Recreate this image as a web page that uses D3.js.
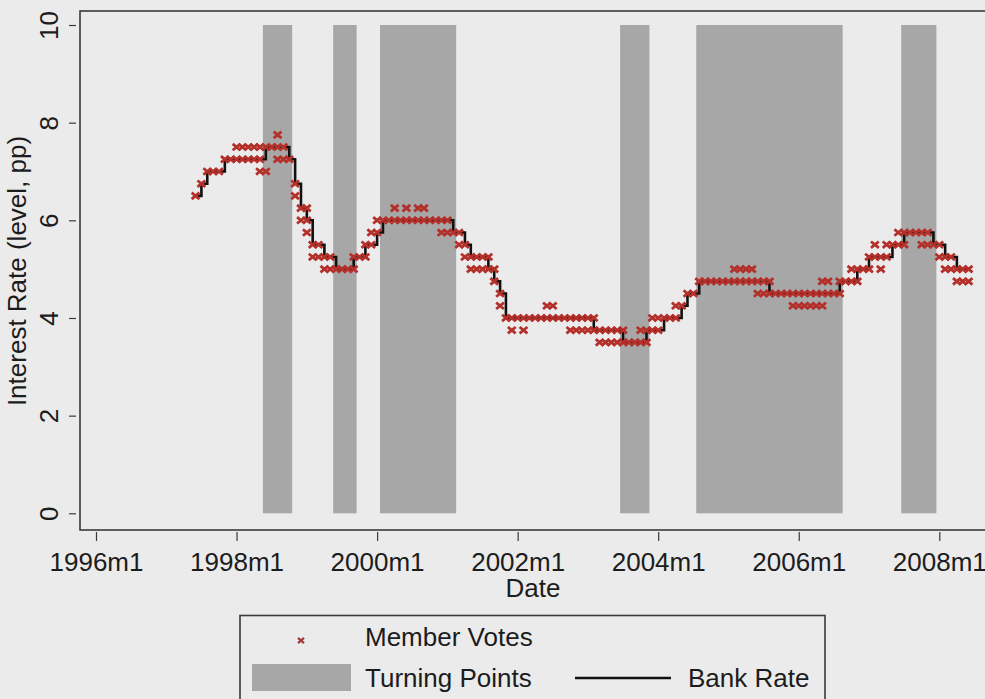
<!DOCTYPE html>
<html>
<head>
<meta charset="utf-8">
<script src="https://cdn.jsdelivr.net/npm/d3@7"></script>
<style>
  html, body { margin: 0; padding: 0; background: #ebebeb; }
  svg { display: block; }
  text { font-family: "Liberation Sans", Arial, Helvetica, sans-serif; fill: #1c1c1c; }
</style>
</head>
<body>
<svg id="chart" width="985" height="699"></svg>
<script>
// ---- data -------------------------------------------------------------
const firstMonth = "1997m6";

// Bank Rate (%), monthly from 1997m6 to 2008m6
const bankRate = [
  6.5, 6.75, 7.0, 7.0, 7.0, 7.25, 7.25,                       // 1997m6-m12
  7.25, 7.25, 7.25, 7.25, 7.25, 7.5, 7.5, 7.5, 7.5, 7.25, 6.75, 6.25, // 1998
  6.0, 5.5, 5.5, 5.25, 5.25, 5.0, 5.0, 5.0, 5.25, 5.25, 5.5, 5.5,     // 1999
  5.75, 6.0, 6.0, 6.0, 6.0, 6.0, 6.0, 6.0, 6.0, 6.0, 6.0, 6.0,        // 2000
  6.0, 5.75, 5.75, 5.5, 5.25, 5.25, 5.25, 5.0, 4.75, 4.5, 4.0, 4.0,   // 2001
  4.0, 4.0, 4.0, 4.0, 4.0, 4.0, 4.0, 4.0, 4.0, 4.0, 4.0, 4.0,         // 2002
  4.0, 3.75, 3.75, 3.75, 3.75, 3.75, 3.5, 3.5, 3.5, 3.5, 3.75, 3.75,  // 2003
  3.75, 4.0, 4.0, 4.0, 4.25, 4.5, 4.5, 4.75, 4.75, 4.75, 4.75, 4.75,  // 2004
  4.75, 4.75, 4.75, 4.75, 4.75, 4.75, 4.75, 4.5, 4.5, 4.5, 4.5, 4.5,  // 2005
  4.5, 4.5, 4.5, 4.5, 4.5, 4.5, 4.5, 4.75, 4.75, 4.75, 5.0, 5.0,      // 2006
  5.25, 5.25, 5.25, 5.25, 5.5, 5.5, 5.75, 5.75, 5.75, 5.75, 5.75, 5.5, // 2007
  5.5, 5.25, 5.25, 5.0, 5.0, 5.0                                      // 2008m1-m6
];

// MPC member votes that differed from the decided rate
const dissentMonths = [
  "1998m1","1998m2","1998m3","1998m4","1998m5","1998m5","1998m6",
  "1998m8","1998m8","1998m9","1998m11","1998m12","1999m1","1999m1",
  "1999m2","1999m3","1999m4","1999m5","1999m9","1999m11","1999m12","2000m1",
  "2000m4","2000m6","2000m8","2000m9","2000m12","2001m1","2001m3","2001m4",
  "2001m5","2001m6","2001m7","2001m8","2001m9","2001m10",
  "2001m12","2002m2","2002m6","2002m7",
  "2002m10","2002m11","2002m12","2003m1","2003m2",
  "2003m3","2003m4","2003m5","2003m6","2003m7",
  "2003m10","2003m11","2003m12","2004m1","2004m4",
  "2005m2","2005m3","2005m4","2005m5","2005m6","2005m7","2005m8",
  "2005m12","2006m1","2006m2","2006m3","2006m4","2006m5",
  "2006m5","2006m6","2006m8","2006m10","2006m11",
  "2007m1","2007m2","2007m3","2007m4","2007m6","2007m7",
  "2007m10","2007m11","2008m1","2008m2","2008m3",
  "2008m4","2008m5","2008m6"
];
const dissentValues = [
  7.5, 7.5, 7.5, 7.5, 7.5, 7.0, 7.0,
  7.75, 7.25, 7.25, 6.5, 6.0, 6.25, 5.75,
  5.25, 5.25, 5.0, 5.0, 5.0, 5.25, 5.75, 6.0,
  6.25, 6.25, 6.25, 6.25, 5.75, 5.75, 5.5, 5.25,
  5.0, 5.0, 5.0, 5.25, 5.0, 4.25,
  3.75, 3.75, 4.25, 4.25,
  3.75, 3.75, 3.75, 3.75, 4.0,
  3.5, 3.5, 3.5, 3.5, 3.75,
  3.75, 3.5, 4.0, 4.0, 4.25,
  5.0, 5.0, 5.0, 5.0, 4.5, 4.5, 4.75,
  4.25, 4.25, 4.25, 4.25, 4.25, 4.25,
  4.75, 4.75, 4.5, 5.0, 4.75,
  5.0, 5.5, 5.0, 5.5, 5.75, 5.5,
  5.5, 5.5, 5.25, 5.0, 5.0,
  4.75, 4.75, 4.75
];

// Turning-point periods (first and last month of each)
const turnStart = ["1998m6", "1999m6", "2000m2", "2003m7", "2004m8", "2007m7"];
const turnEnd   = ["1998m10", "1999m9", "2001m2", "2003m11", "2006m8", "2007m12"];
const turnHeight = 10;

const xTickLabels = ["1996m1", "1998m1", "2000m1", "2002m1", "2004m1", "2006m1", "2008m1"];
const yTickValues = [0, 2, 4, 6, 8, 10];

// ---- helpers ----------------------------------------------------------
// monthly index counted from 1996m1
const baseYear = 1996;
function monthIndex(label) {
  const [y, m] = label.split("m").map(Number);
  return (y - baseYear) * 12 + (m - 1);
}
const start = monthIndex(firstMonth);
const rateSeries = bankRate.map((v, i) => ({ t: start + i, v }));
const voteSeries = rateSeries.concat(
  dissentMonths.map((m, i) => ({ t: monthIndex(m), v: dissentValues[i] }))
);

// ---- layout -----------------------------------------------------------
const svg = d3.select("#chart");
const frame = { left: 80, top: 11, right: 1002, bottom: 530 };

const x = d3.scaleLinear().domain([monthIndex("1996m1"), monthIndex("2008m1")]).range([96, 939.3]);
const y = d3.scaleLinear().domain([0, 10]).range([513.3, 25]);

// turning-point bands
svg.append("g")
  .selectAll("rect")
  .data(turnStart.map((s, i) => ({ s: monthIndex(s), e: monthIndex(turnEnd[i]) })))
  .join("rect")
  .attr("x", d => x(d.s - 0.5))
  .attr("width", d => x(d.e + 0.5) - x(d.s - 0.5))
  .attr("y", y(turnHeight))
  .attr("height", y(0) - y(turnHeight))
  .attr("fill", "#a7a7a7");

// plot frame
svg.append("rect")
  .attr("x", frame.left).attr("y", frame.top)
  .attr("width", frame.right - frame.left).attr("height", frame.bottom - frame.top)
  .attr("fill", "none").attr("stroke", "#3a3a3a").attr("stroke-width", 1.6);

// y axis
const yAxis = svg.append("g")
  .attr("transform", "translate(76,0)")
  .call(d3.axisLeft(y).tickValues(yTickValues).tickSize(7).tickFormat(""));
yAxis.select(".domain").remove();
yAxis.selectAll(".tick line").attr("stroke", "#3a3a3a").attr("stroke-width", 1.2);
yAxis.selectAll(".tick").append("text")
  .attr("transform", "translate(-18,0) rotate(-90)")
  .attr("text-anchor", "middle")
  .attr("fill", "#1c1c1c")
  .style("font-size", "26px")
  .text(d => d);

// x axis
const xAxis = svg.append("g")
  .attr("transform", "translate(0,532)")
  .call(d3.axisBottom(x).tickValues(xTickLabels.map(monthIndex)).tickSize(9)
    .tickFormat((d, i) => xTickLabels[i]));
xAxis.select(".domain").remove();
xAxis.selectAll(".tick line").attr("stroke", "#3a3a3a").attr("stroke-width", 1.2);
xAxis.selectAll(".tick text")
  .attr("y", 39).attr("dy", 0)
  .attr("fill", "#1c1c1c")
  .style("font-size", "26px")
  .style("font-family", "'Liberation Sans', Arial, sans-serif");

// axis titles
svg.append("text")
  .attr("transform", "translate(26,271) rotate(-90)")
  .attr("text-anchor", "middle")
  .style("font-size", "26px")
  .text("Interest Rate (level, pp)");
svg.append("text")
  .attr("x", 533).attr("y", 597)
  .attr("text-anchor", "middle")
  .style("font-size", "26px")
  .text("Date");

// bank rate stairstep
const line = d3.line().x(d => x(d.t)).y(d => y(d.v)).curve(d3.curveStepAfter);
svg.append("path")
  .datum(rateSeries)
  .attr("d", line)
  .attr("fill", "none")
  .attr("stroke", "#111")
  .attr("stroke-width", 2.6);

// member votes (X markers)
const xMark = "M-3.9,-3.2L3.9,3.2M-3.9,3.2L3.9,-3.2";
svg.append("g")
  .selectAll("path")
  .data(voteSeries)
  .join("path")
  .attr("transform", d => `translate(${x(d.t)},${y(d.v)})`)
  .attr("d", xMark)
  .attr("fill", "none")
  .attr("stroke", "#b3302b")
  .attr("stroke-width", 2.8);

// legend
const lg = svg.append("g");
lg.append("rect")
  .attr("x", 240).attr("y", 615.5).attr("width", 585).attr("height", 100)
  .attr("fill", "none").attr("stroke", "#3a3a3a").attr("stroke-width", 1.6);
lg.append("path")
  .attr("transform", "translate(301,640.5)")
  .attr("d", "M-3,-2.6L3,2.6M-3,2.6L3,-2.6")
  .attr("fill", "none").attr("stroke", "#a23a3a").attr("stroke-width", 2.2);
lg.append("text").attr("x", 365).attr("y", 646).style("font-size", "26px").text("Member Votes");
lg.append("rect")
  .attr("x", 252).attr("y", 664).attr("width", 99).attr("height", 27)
  .attr("fill", "#a7a7a7");
lg.append("text").attr("x", 365).attr("y", 687).style("font-size", "26px").text("Turning Points");
lg.append("line")
  .attr("x1", 575).attr("x2", 671).attr("y1", 678).attr("y2", 678)
  .attr("stroke", "#111").attr("stroke-width", 2.6);
lg.append("text").attr("x", 688).attr("y", 687).style("font-size", "26px").text("Bank Rate");
</script>
</body>
</html>
